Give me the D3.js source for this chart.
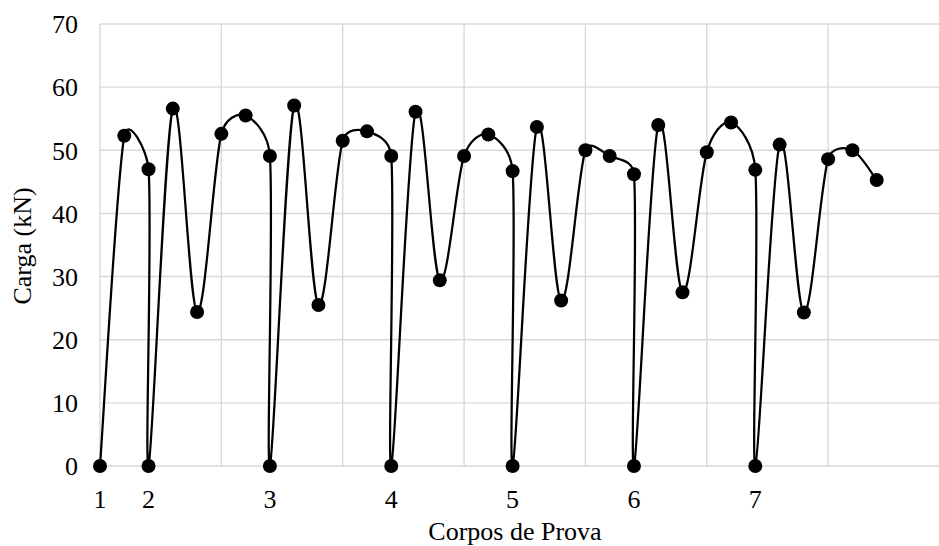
<!DOCTYPE html>
<html>
<head>
<meta charset="utf-8">
<script src="https://cdn.jsdelivr.net/npm/d3@7"></script>
<style>
  html, body { margin: 0; padding: 0; background: #fff; }
  svg { display: block; }
  text { font-family: "Liberation Serif", "Times New Roman", serif; fill: #000; }
</style>
</head>
<body>
<svg id="chart" width="939" height="546"></svg>
<script>
// Ensaio de carga dos corpos de prova: posição na sequência e carga medida (kN)
const posicao = [
  0, 1, 2,
  2, 3, 4, 5, 6, 7,
  7, 8, 9, 10, 11, 12,
  12, 13, 14, 15, 16, 17,
  17, 18, 19, 20, 21, 22,
  22, 23, 24, 25, 26, 27,
  27, 28, 29, 30, 31, 32
];
const carga = [
  0, 52.3, 47.0,
  0, 56.6, 24.4, 52.6, 55.5, 49.1,
  0, 57.1, 25.5, 51.5, 53.0, 49.1,
  0, 56.1, 29.4, 49.1, 52.5, 46.7,
  0, 53.7, 26.2, 50.0, 49.1, 46.2,
  0, 54.0, 27.5, 49.7, 54.4, 46.9,
  0, 50.9, 24.3, 48.6, 50.0, 45.3
];
// Rótulos dos corpos de prova, colocados no início de cada ensaio
const corpos = ["1", "2", "3", "4", "5", "6", "7"];
const inicioCorpo = [0, 2, 7, 12, 17, 22, 27];
// Marcas dos eixos
const yTicks = [0, 10, 20, 30, 40, 50, 60, 70];
const xGrade = [0, 5, 10, 15, 20, 25, 30, 35];

const svg = d3.select("#chart");
const FONT = "26px";

const x = d3.scaleLinear().domain([0, 35]).range([100, 949.5]);
const y = d3.scaleLinear().domain([0, 70]).range([466, 24]);

// Curva suavizada: Bézier com tangentes de 1/6, limitadas a meio segmento
function SuaveLimitada(context) { this._context = context; }
SuaveLimitada.prototype = {
  areaStart() {}, areaEnd() {},
  lineStart() { this._p = []; },
  point(px, py) { this._p.push([+px, +py]); },
  lineEnd() {
    const p = this._p, c = this._context, n = p.length;
    if (!n) return;
    const dist = (a, b) => Math.hypot(b[0] - a[0], b[1] - a[1]);
    c.moveTo(p[0][0], p[0][1]);
    for (let i = 0; i < n - 1; i++) {
      const p0 = p[i > 0 ? i - 1 : i], p1 = p[i], p2 = p[i + 1];
      const p3 = p[i + 2 < n ? i + 2 : i + 1];
      const d12 = dist(p1, p2), d02 = dist(p0, p2), d13 = dist(p1, p3);
      const f0 = d02 > 0 ? Math.min(1 / 6, d12 / (2 * d02)) : 0;
      const f1 = d13 > 0 ? Math.min(1 / 6, d12 / (2 * d13)) : 0;
      c.bezierCurveTo(
        p1[0] + (p2[0] - p0[0]) * f0, p1[1] + (p2[1] - p0[1]) * f0,
        p2[0] - (p3[0] - p1[0]) * f1, p2[1] - (p3[1] - p1[1]) * f1,
        p2[0], p2[1]
      );
    }
  }
};
const curvaSuave = ctx => new SuaveLimitada(ctx);

// Grade
const grid = svg.append("g").attr("stroke", "#d9d9d9").attr("stroke-width", 1.4);
grid.selectAll("line.h").data(yTicks).join("line")
  .attr("class", "h")
  .attr("x1", x(0)).attr("x2", x(35))
  .attr("y1", d => y(d)).attr("y2", d => y(d));
grid.selectAll("line.v").data(xGrade).join("line")
  .attr("class", "v")
  .attr("x1", d => x(d)).attr("x2", d => x(d))
  .attr("y1", y(0)).attr("y2", y(70));

// Eixo Y
const yAxis = d3.axisLeft(y).tickValues(yTicks).tickSize(0).tickPadding(0);
const gy = svg.append("g").attr("transform", "translate(78,0)").call(yAxis);
gy.select(".domain").remove();
gy.selectAll("text")
  .style("font-family", '"Liberation Serif", "Times New Roman", serif')
  .style("font-size", FONT).attr("fill", "#000").attr("dy", "0.34em");

// Rótulos do eixo X (corpos de prova)
svg.append("g").selectAll("text").data(corpos).join("text")
  .attr("x", (d, i) => x(inicioCorpo[i]))
  .attr("y", 508)
  .attr("text-anchor", "middle")
  .style("font-size", FONT)
  .text(d => d);

// Títulos dos eixos
svg.append("text")
  .attr("x", 515).attr("y", 540)
  .attr("text-anchor", "middle")
  .style("font-size", FONT)
  .text("Corpos de Prova");
svg.append("text")
  .attr("transform", "translate(31,246) rotate(-90)")
  .attr("text-anchor", "middle")
  .style("font-size", FONT)
  .text("Carga (kN)");

// Série
const pontos = posicao.map((p, i) => [p, carga[i]]);
const linha = d3.line()
  .x(d => x(d[0]))
  .y(d => y(d[1]))
  .curve(curvaSuave);
svg.append("path")
  .datum(pontos)
  .attr("fill", "none")
  .attr("stroke", "#000")
  .attr("stroke-width", 2.25)
  .attr("stroke-linejoin", "round")
  .attr("d", linha);

// Marcadores
svg.append("g").selectAll("circle").data(pontos).join("circle")
  .attr("cx", d => x(d[0]))
  .attr("cy", d => y(d[1]))
  .attr("r", 7)
  .attr("fill", "#000");
</script>
</body>
</html>
